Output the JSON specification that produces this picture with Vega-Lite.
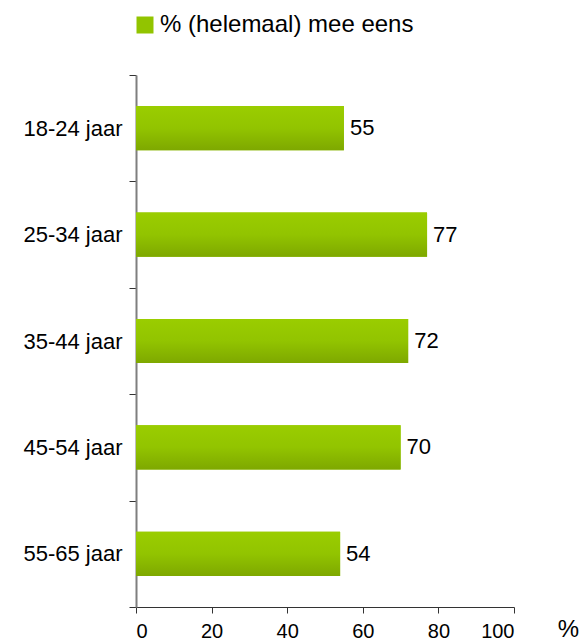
{
  "$schema": "https://vega.github.io/schema/vega-lite/v6.json",
  "width": 378,
  "height": 532,
  "autosize": "none",
  "padding": {"left": 136, "top": 75, "right": 69, "bottom": 37},
  "background": "white",
  "config": {
    "view": {"stroke": null},
    "font": "Arial, Liberation Sans, sans-serif"
  },
  "data": {
    "values": [
      {"leeftijd": "18-24 jaar", "pct": 55, "reeks": "% (helemaal) mee eens"},
      {"leeftijd": "25-34 jaar", "pct": 77, "reeks": "% (helemaal) mee eens"},
      {"leeftijd": "35-44 jaar", "pct": 72, "reeks": "% (helemaal) mee eens"},
      {"leeftijd": "45-54 jaar", "pct": 70, "reeks": "% (helemaal) mee eens"},
      {"leeftijd": "55-65 jaar", "pct": 54, "reeks": "% (helemaal) mee eens"}
    ]
  },
  "encoding": {
    "y": {
      "field": "leeftijd",
      "type": "nominal",
      "sort": null,
      "scale": {"paddingInner": 0, "paddingOuter": 0},
      "axis": {
        "title": null,
        "tickBand": "extent",
        "domainColor": "#7f7f7f",
        "domainWidth": 2,
        "tickColor": "#333333",
        "tickSize": 7,
        "tickWidth": 1,
        "labelFontSize": 22,
        "labelColor": "#000000",
        "labelPadding": 7,
        "labelLimit": 200,
        "labelFont": "Arial, Liberation Sans, sans-serif"
      }
    },
    "x": {
      "field": "pct",
      "type": "quantitative",
      "scale": {"domain": [0, 100]},
      "axis": {
        "values": [0, 20, 40, 60, 80, 100],
        "grid": false,
        "title": "%",
        "titleX": 432,
        "titleY": 29,
        "titleAlign": "center",
        "titleBaseline": "alphabetic",
        "titleFontSize": 24,
        "titleFontWeight": "normal",
        "titleColor": "#000000",
        "titleFont": "Arial, Liberation Sans, sans-serif",
        "domainColor": "#333333",
        "domainWidth": 1,
        "tickColor": "#333333",
        "tickSize": 6,
        "labelFontSize": 20,
        "labelColor": "#000000",
        "labelPadding": 8,
        "labelFont": "Arial, Liberation Sans, sans-serif"
      }
    }
  },
  "layer": [
    {
      "mark": {"type": "bar", "height": {"band": 0.415}},
      "encoding": {
        "fill": {
          "field": "reeks",
          "type": "nominal",
          "scale": {"range": ["#92C400"]},
          "legend": {
            "title": null,
            "orient": "none",
            "legendX": -3,
            "legendY": -62,
            "padding": 0,
            "symbolType": "square",
            "symbolSize": 289,
            "symbolStrokeWidth": 0,
            "labelFontSize": 24,
            "labelColor": "#000000",
            "labelFont": "Arial, Liberation Sans, sans-serif",
            "labelLimit": 400,
            "labelOffset": 3
          }
        }
      }
    },
    {
      "mark": {
        "type": "bar",
        "height": {"band": 0.415},
        "color": {
          "gradient": "linear",
          "x1": 0, "y1": 0, "x2": 0, "y2": 1,
          "stops": [
            {"offset": 0, "color": "#9ACD00"},
            {"offset": 0.5, "color": "#92C400"},
            {"offset": 1, "color": "#7EA800"}
          ]
        }
      },
      "encoding": {}
    },
    {
      "mark": {"type": "text", "align": "left", "baseline": "middle", "dx": 6, "fontSize": 22, "color": "#000000", "font": "Arial, Liberation Sans, sans-serif"},
      "encoding": {
        "text": {"field": "pct", "type": "quantitative"}
      }
    }
  ]
}
